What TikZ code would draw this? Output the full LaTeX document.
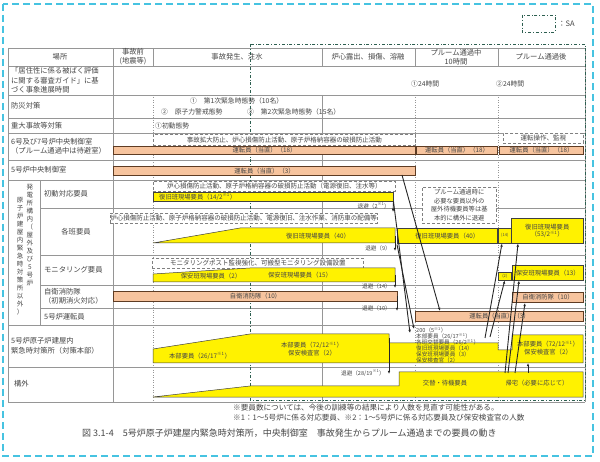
\documentclass[tikz,border=0pt]{standalone}
\usepackage{fontspec}
\setmainfont{Noto Sans CJK JP}
\usepackage{xcolor}
\usetikzlibrary{arrows.meta, positioning}

\definecolor{opfill}{RGB}{247,196,158}
\definecolor{opedge}{RGB}{95,60,35}
\definecolor{sagreen}{RGB}{45,95,80}
\definecolor{pageblue}{RGB}{70,195,225}
\definecolor{inkgray}{RGB}{70,70,70}
\definecolor{rulegray}{RGB}{150,150,150}

\newcommand{\ks}[1]{\textsuperscript{※#1}}

\begin{document}
\lineskiplimit=-\maxdimen
\begin{tikzpicture}[
  x=1pt, y=-1pt,
  every node/.style={inner sep=0pt, text=inkgray},
  rule/.style={draw=rulegray, line width=0.5pt},
  dotrule/.style={draw=rulegray, line width=0.5pt, dotted},
  saframe/.style={draw=sagreen, line width=0.7pt, dash dot},
  rowlbl/.style={anchor=west, align=left, font=\fontsize{7.3}{9.5}\selectfont},
  headlbl/.style={align=center, font=\fontsize{7.3}{9}\selectfont},
  vertlbl/.style={anchor=north, align=center, font=\fontsize{6.5}{8}\selectfont},
  tltext/.style={anchor=west, font=\fontsize{6.8}{8}\selectfont},
  opbar/.style={draw=opedge, line width=1pt, fill=opfill, anchor=north west, font=\fontsize{6.3}{7}\selectfont},
  staff/.style={draw=black!75, line width=0.5pt, fill=yellow},
  staffbox/.style={staff, anchor=north west, align=center, font=\fontsize{6.3}{7.5}\selectfont},
  tinybox/.style={staffbox, font=\fontsize{4}{5}\selectfont},
  stafflbl/.style={align=center, font=\fontsize{6.3}{7.5}\selectfont},
  task/.style={draw=gray, densely dashed, line width=0.5pt, fill=white, anchor=north west, font=\fontsize{6.5}{7}\selectfont},
  outlbl/.style={anchor=east, font=\fontsize{5.6}{6.5}\selectfont},
  move/.style={-{Latex[length=3.2pt, width=2.6pt]}, line width=0.9pt, black!85},
  note/.style={anchor=west, font=\fontsize{7.6}{9}\selectfont}
]
\useasboundingbox (0,0) rectangle (600,462);
\fill[white] (0,0) rectangle (600,462);
\draw[pageblue, line width=1.8pt, dash pattern=on 7pt off 4pt] (3,4) rectangle (593,456);

% table rules
\foreach \yy in {48,66,95,118,133,160,180,325,367,402}
  \draw[rule] (8,\yy) -- (585,\yy);
\foreach \yy in {208,255,285,308}
  \draw[rule] (40,\yy) -- (585,\yy);
\draw[rule] (8,48) -- (8,402);
\draw[rule] (113,48) -- (113,402);
\draw[rule] (40,180) -- (40,325);
\draw[rule] (322,48) -- (322,66);
\draw[rule] (322,95) -- (322,402);
\draw[rule] (585,48) -- (585,402);
\foreach \xx in {153,415,498} {
  \draw[rule] (\xx,48) -- (\xx,66);
  \draw[dotrule] (\xx,95) -- (\xx,402);
}
\draw[saframe] (250,44) rectangle (585,400);
\draw[saframe] (522,15) rectangle (555,32);
\node[anchor=west, font=\fontsize{7.5}{9}\selectfont] (saKey) at (558,24) {：SA};

% header
\node[headlbl] (hBasho) at (60,57) {場所};
\node[headlbl] (hMae) at (133,57) {事故前\\(地震等)};
\node[headlbl] (hHassei) at (237,57) {事故発生、注水};
\node[headlbl] (hRoshin) at (368,57) {炉心露出、損傷、溶融};
\node[headlbl] (hPlume) at (456,57) {プルーム通過中\\10時間};
\node[headlbl] (hAfter) at (541,57) {プルーム通過後};

% row labels
\node[rowlbl] (rGuide) at (11,80.5) {「居住性に係る被ばく評価\\に関する審査ガイド」に基\\づく事象進展時間};
\node[rowlbl] (rBosai) at (11,106) {防災対策};
\node[rowlbl] (rSA) at (11,125.5) {重大事故等対策};
\node[rowlbl] (rCR67) at (11,146.5) {6号及び7号炉中央制御室\\（プルーム通過中は待避室）};
\node[rowlbl] (rCR5) at (11,170) {5号炉中央制御室};
\node[vertlbl] (rSite1) at (30,184) {発\\電\\所\\構\\内\\（\\屋\\外\\及\\び\\5\\号\\炉};
\node[vertlbl] (rSite2) at (20,197) {原\\子\\炉\\建\\屋\\内\\緊\\急\\時\\対\\策\\所\\以\\外\\）};
\node[rowlbl] (rShodo) at (44,194) {初動対応要員};
\node[headlbl] (rKakuhan) at (76,232) {各班要員};
\node[rowlbl] (rMoni) at (44,270) {モニタリング要員};
\node[rowlbl] (rJiei) at (44,296.5) {自衛消防隊\\（初期消火対応）};
\node[rowlbl] (rUnten5) at (44,316.5) {5号炉運転員};
\node[rowlbl] (rHonbu) at (11,346) {5号炉原子炉建屋内\\緊急時対策所（対策本部）};
\node[rowlbl] (rKogai) at (14,384) {構外};

% event times
\node[tltext] (tPlume24) at (411,84) {①24時間};
\node[tltext] (tAfter24) at (496,84) {②24時間};
\node[tltext] (tBosai1) at (190,100.5) {①　第1次緊急時態勢（10名）};
\node[tltext] (tBosai2) at (161,111.5) {②　原子力警戒態勢};
\node[tltext] (tBosai3) at (247,111.5) {③　第2次緊急時態勢（15名）};
\node[tltext] (tShodo) at (155,125.5) {①初動態勢};

% control rooms
\node[task, minimum width=262pt, minimum height=11pt] (task67) at (153,134) {事故拡大防止、炉心損傷防止活動、原子炉格納容器の破損防止活動};
\node[task, minimum width=80pt, minimum height=10pt] (task67b) at (503,133) {運転操作、監視};
\node[opbar, minimum width=302pt, minimum height=8pt] (op67a) at (113,146) {運転員（当直）（18）};
\node[opbar, minimum width=81pt, minimum height=8pt] (op67b) at (416,146) {運転員（当直）（18）};
\node[opbar, minimum width=84pt, minimum height=8pt] (op67c) at (499,146) {運転員（当直）（18）};
\node[opbar, minimum width=302pt, minimum height=9pt] (op5) at (113,166) {運転員（当直）（3）};

% initial response staff
\node[task, minimum width=242pt, minimum height=10pt] (taskShodo) at (153,181) {炉心損傷防止活動、原子炉格納容器の破損防止活動（電源復旧、注水等）};
\node[staffbox, minimum width=240pt, minimum height=9pt] (yShodo) at (153,192) {};
\node[stafflbl, anchor=west] (lShodo) at ([xshift=6pt]yShodo.west) {復旧班現場要員（14/2\ks{1}）};
\coordinate (shodoOut) at (393,212);
\node[outlbl] (lShodoOut) at (390,206) {退避（2\ks{1}）};

% team staff
\node[task, minimum width=262pt, minimum height=10pt] (taskKakuhan) at (110,213) {炉心損傷防止活動、原子炉格納容器の破損防止活動、電源復旧、注水作業、消防車の配備等};
\draw[staff] (153,243) -- (240,228) -- (395,228) -- (395,243) -- cycle;
\node[stafflbl] (lKakuhan) at (318,236) {復旧班現場要員（40）};
\coordinate (kakuhanEnd) at (395,236);
\coordinate (kakuhanOut) at (395,251);
\node[outlbl] (lKakuhanOut) at (391,248) {退避（9）};
\node[staffbox, minimum width=100pt, minimum height=15pt] (yKakuhanP) at (397,228) {復旧班現場要員（40）};
\node[tinybox, minimum width=13pt, minimum height=15pt] (yKakuhanS) at (498,228) {(14)};
\node[staffbox, minimum width=72pt, minimum height=25pt] (yKakuhanA) at (511,218) {復旧班現場要員\\（53/2\ks{1}）};
\node[task, minimum width=74pt, minimum height=36pt, align=center, font=\fontsize{6.3}{8.5}\selectfont] (notePlume) at (422,187) {プルーム通過時に\\必要な要員以外の\\屋外待機要員等は基\\本的に構外に退避};

% monitoring staff
\node[task, minimum width=211pt, minimum height=10pt] (taskMoni) at (152,258) {モニタリングポスト監視強化、可搬型モニタリング設備設置};
\draw[staff] (153,282) -- (153,274) -- (250,268) -- (395,268) -- (395,282) -- cycle;
\node[stafflbl] (lMoni1) at (211,276.5) {保安班現場要員（2）};
\node[stafflbl] (lMoni2) at (300,275.5) {保安班現場要員（15）};
\coordinate (moniEnd) at (395,275);
\coordinate (moniOut) at (395,288);
\node[outlbl] (lMoniOut) at (391,286) {退避（14）};
\node[tinybox, minimum width=13pt, minimum height=8pt] (yMoniS) at (498,272) {(2)};
\node[staffbox, minimum width=71pt, minimum height=15pt] (yMoniA) at (512,265) {保安班現場要員（13）};

% fire brigade
\node[opbar, minimum width=284pt, minimum height=10pt] (opJiei) at (113,291) {自衛消防隊（10）};
\coordinate (jieiEnd) at (397,296);
\coordinate (jieiOut) at (397,311);
\node[outlbl] (lJieiOut) at (391,308) {退避（10）};
\node[opbar, minimum width=71pt, minimum height=10pt] (opJieiA) at (512,292) {自衛消防隊（10）};

% unit 5 operators
\node[opbar, minimum width=168pt, minimum height=10pt] (op5A) at (415,311) {運転員（当直）（3）};

% emergency response centre
\draw[staff] (153,349) -- (250,334) -- (389,334) -- (389,343) -- (498,343) -- (498,350)
  -- (512,350) -- (512,335) -- (583,335) -- (583,363) -- (153,363) -- cycle;
\node[stafflbl] (lHonbu1) at (200,356) {本部要員（26/17\ks{1}）};
\node[stafflbl] (lHonbu2) at (312,349) {本部要員（72/12\ks{1}）\\保安検査官（2）};
\node[stafflbl] (lHonbu3) at (548,348) {本部要員（72/12\ks{1}）\\保安検査官（2）};
\node[anchor=north west, align=left, font=\fontsize{5.6}{6}\selectfont] (lRefuge) at (416,327) {200（5\ks{1}）\\本部要員（26/17\ks{1}）\\各班交替要員（26/2\ks{1}）\\復旧班現場要員（14）\\保安班現場要員（3）\\保安検査官（2）};
\coordinate (honbuEnd) at (389,338);
\coordinate (honbuOut) at (389,374);
\node[outlbl] (lHonbuOut) at (385,373) {退避（28/19\ks{1}）};

% off site
\draw[staff] (153,397) -- (250,386) -- (399,386) -- (399,372) -- (583,372) -- (583,397) -- cycle;
\node[stafflbl] (lKogai1) at (445,383) {交替・待機要員};
\node[stafflbl] (lKogai2) at (537,383) {帰宅（必要に応じて）};

% movements
\coordinate (cr5Out) at (402,175);
\coordinate (refugeIn1) at (410,333);
\coordinate (refugeIn2) at (414,329);
\coordinate (refugeOut1) at (485,338);
\coordinate (refugeOut2) at (490,337);
\coordinate (kogaiOut1) at (505,373);
\coordinate (kogaiOut2) at (508,373);
\coordinate (kogaiOut3) at (515,373);
\coordinate (kogaiOut4) at (528,373);
\coordinate (honbuBack) at (528,363);

\draw[move] (yShodo.south east) -- (shodoOut);
\draw[move] (kakuhanEnd) -- (kakuhanOut);
\draw[move] (moniEnd) -- (moniOut);
\draw[move] (jieiEnd) -- (jieiOut);
\draw[move] (honbuEnd) -- (honbuOut);
\draw[move] (yShodo.south east) -- (refugeIn1);
\draw[move] ([yshift=-1pt]yKakuhanP.south west) -- (refugeIn2);
\draw[move] (cr5Out) -- ([xshift=25pt]op5A.north west);
\draw[move] (refugeOut1) -- ([xshift=4pt]yKakuhanS.south west);
\draw[move] (refugeOut2) -- (yMoniS.south);
\draw[move] (kogaiOut1) -- ([xshift=7pt]yKakuhanA.south west);
\draw[move] (kogaiOut2) -- ([xshift=7pt]yMoniA.south west);
\draw[move] (kogaiOut3) -- ([xshift=13pt]opJieiA.south west);
\draw[move] (kogaiOut4) -- (honbuBack);

% notes
\node[note] (note1) at (233,408) {※要員数については、今後の訓練等の結果により人数を見直す可能性がある。};
\node[note] (note2) at (233,418) {※1：1～5号炉に係る対応要員、※2：1～5号炉に係る対応要員及び保安検査官の人数};
\node[anchor=west, font=\fontsize{9}{10}\selectfont] (caption) at (82,433) {図 3.1-4　5号炉原子炉建屋内緊急時対策所，中央制御室　事故発生からプルーム通過までの要員の動き};
\end{tikzpicture}
\end{document}
